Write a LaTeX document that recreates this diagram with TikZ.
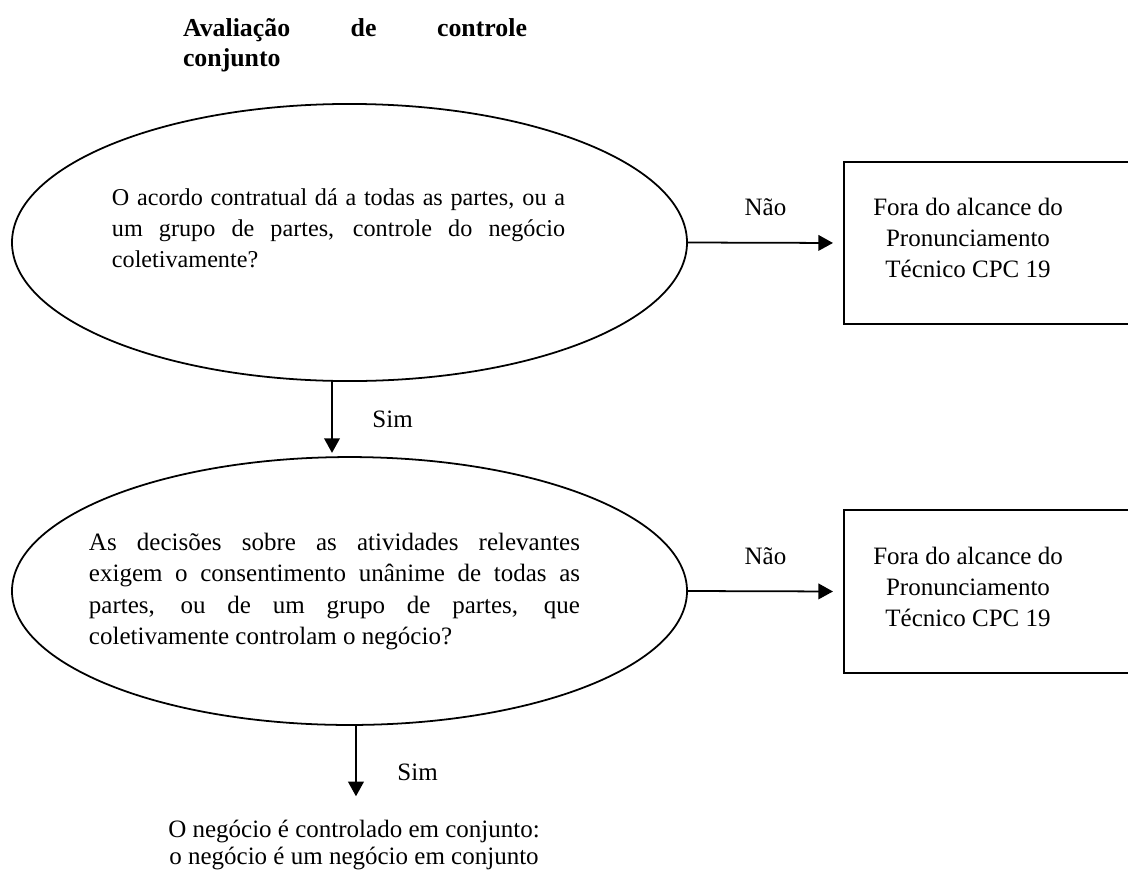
\documentclass[tikz,border=0pt]{standalone}
\usepackage{fontspec}
\setmainfont{Liberation Serif}
\usetikzlibrary{arrows.meta,shapes.geometric}

\newcommand{\tightsp}{\spaceskip=3pt plus 4pt minus 1.8pt\relax}

\tikzset{every picture/.style={line width=0.85pt}}
\tikzset{
	question/.style={draw, ellipse, inner sep=0pt, outer sep=0pt},
	outbox/.style={draw, rectangle, inner sep=0pt, outer sep=0pt, anchor=west},
	bodytext/.style={inner sep=0pt, font=\fontsize{12}{14.9}\selectfont},
	qtext/.style={bodytext, align=justify, execute at begin node=\tightsp},
	flow/.style={-{Triangle[length=7pt,width=7.5pt]}},
	lbl/.style={inner sep=0pt, font=\fontsize{12}{14.9}\selectfont}}

\begin{document}
\begin{tikzpicture}[x=0.48pt,y=-0.48pt]
	\path[use as bounding box, clip] (0,0) rectangle (1128,874);

	% Text Node
	\node[qtext, text width=165.1pt, font=\fontsize{12.4}{14.4}\selectfont\bfseries] (title) at (355,45) {Avaliação de controle\linebreak conjunto};

	%Shape: Ellipse
	\node[question, minimum width=324pt, minimum height=133pt] (q1) at (349.5,242.5) {};
	% Text Node
	\node[qtext, text width=217.5pt, font=\fontsize{11.6}{14.9}\selectfont] (t1) at (338.5,228) {O acordo contratual dá a todas as partes, ou a\linebreak um grupo de partes, controle do negócio\linebreak coletivamente?};

	%Shape: Ellipse
	\node[question, minimum width=324pt, minimum height=128.6pt] (q2) at (349.5,591) {};
	% Text Node
	\node[qtext, text width=235.7pt] (t2) at (334.5,591.5) {As decisões sobre as atividades relevantes\linebreak exigem o consentimento unânime de todas as\linebreak partes, ou de um grupo de partes, que\linebreak coletivamente controlam o negócio?};

	%Shape: Rectangle
	\node[outbox, minimum width=144pt, minimum height=77.8pt] (f1) at (844,243) {};
	% Text Node
	\node[bodytext, align=center] (ft1) at (968,238) {Fora do alcance do\\Pronunciamento\\Técnico CPC 19};

	%Shape: Rectangle
	\node[outbox, minimum width=144pt, minimum height=78.2pt] (f2) at (844,591.5) {};
	% Text Node
	\node[bodytext, align=center] (ft2) at (968,587) {Fora do alcance do\\Pronunciamento\\Técnico CPC 19};

	% Text Node
	\node[bodytext, align=center, font=\fontsize{12}{13}\selectfont] (res) at (354,845) {O negócio é controlado em conjunto:\\o negócio é um negócio em conjunto};

	% Arrows
	\draw[flow, shorten >=5.3pt] (q1.east) -- node[lbl, above=12.5pt] {Não} (f1.west);
	\draw[flow, shorten >=5.3pt] (q2.east) -- node[lbl, above=12.5pt] {Não} (f2.west);
	\draw[flow, shorten >=2pt] ([xshift=-8.4pt]q1.south) -- node[lbl, right=19pt] {Sim} ([xshift=-8.4pt]q2.north);
	\draw[flow, shorten >=11pt] ([xshift=3.1pt]q2.south) -- node[lbl, right=19.5pt] {Sim} ([xshift=3.1pt]q2.south |- res.north);

\end{tikzpicture}
\end{document}
